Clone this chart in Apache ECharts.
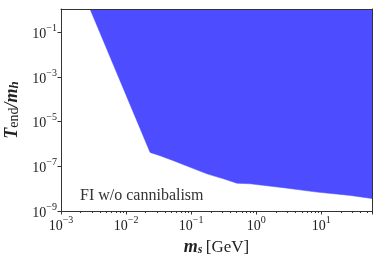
<!DOCTYPE html>
<html>
<head>
<meta charset="utf-8">
<script src="https://cdn.jsdelivr.net/npm/echarts@6/dist/echarts.min.js"></script>
<style>
html,body{margin:0;padding:0;background:#fff;}
#c{width:382px;height:259px;}
</style>
</head>
<body>
<div id="c"></div>
<script>
// boundary of the allowed (blue) region: T_end/m_h vs m_s [GeV]
var msBoundary = [0.00279, 0.0234, 0.0333, 0.0535, 0.0966, 0.1746, 0.314, 0.505, 0.809, 2.63, 8.59, 27.9, 60];
var tBoundary  = [1.1, 4.19e-7, 2.99e-7, 1.79e-7, 9.0e-8, 4.6e-8, 2.75e-8, 1.75e-8, 1.65e-8, 1.1e-8, 7.0e-9, 5.0e-9, 3.6e-9];
var xTickExps = [-3, -2, -1, 0, 1];
var yTickExps = [-9, -7, -5, -3, -1];
var annotation = 'FI w/o cannibalism';

var SERIF = '"Liberation Serif", "DejaVu Serif", serif';
var data = msBoundary.map(function (m, i) { return [m, tBoundary[i]]; });

function powLabel(v) {
  var e = Math.round(Math.log10(v));
  return '{b|10}{s|' + (e < 0 ? '\u2212' + (-e) : e) + '}';
}
var tickRich = {
  b: { fontFamily: SERIF, fontSize: 14, color: '#222', verticalAlign: 'bottom', lineHeight: 18 },
  s: { fontFamily: SERIF, fontSize: 10, color: '#222', verticalAlign: 'top', lineHeight: 18 }
};

var chart = echarts.init(document.getElementById('c'), null, { renderer: 'canvas' });
chart.setOption({
  animation: false,
  grid: { left: 61, right: 10, top: 9, bottom: 48, show: false, containLabel: false, outerBoundsMode: 'none' },
  xAxis: [{
    type: 'log', logBase: 10, min: 1e-3, max: 60,
    position: 'bottom', z: 10,
    axisLine: { show: true, lineStyle: { color: '#333', width: 1 } },
    axisTick: { show: true, length: 3.5, lineStyle: { color: '#333' } },
    minorTick: { show: true, splitNumber: 9, length: 2, lineStyle: { color: '#333' } },
    splitLine: { show: false },
    axisLabel: { formatter: powLabel, rich: tickRich, margin: 4, showMaxLabel: false },
    name: '{bi|m}{bis|s} {r|[GeV]}', nameLocation: 'middle', nameGap: 25,
    nameTextStyle: { rich: {
      bi: { fontFamily: SERIF, fontSize: 18, fontWeight: 'bold', fontStyle: 'italic', color: '#222', verticalAlign: 'bottom', lineHeight: 20 },
      bis: { fontFamily: SERIF, fontSize: 12, fontWeight: 'bold', fontStyle: 'italic', color: '#222', verticalAlign: 'bottom', lineHeight: 16 },
      r: { fontFamily: SERIF, fontSize: 17, color: '#222', verticalAlign: 'bottom', lineHeight: 20 }
    } }
  }, {
    type: 'log', logBase: 10, min: 1e-3, max: 60, position: 'top', z: 10,
    axisLine: { show: true, lineStyle: { color: '#333', width: 1 } },
    axisTick: { show: false }, axisLabel: { show: false }, splitLine: { show: false }
  }],
  yAxis: [{
    type: 'log', logBase: 10, min: 1e-9, max: 1.1, interval: 2,
    position: 'left', z: 10,
    axisLine: { show: true, lineStyle: { color: '#333', width: 1 } },
    axisTick: { show: true, length: 3.5, lineStyle: { color: '#333' } },
    splitLine: { show: false },
    axisLabel: { formatter: powLabel, rich: tickRich, margin: 4, showMaxLabel: false },
    name: '{bi|T}{sub|end}{bi|/m}{bis|h}', nameLocation: 'middle', nameGap: 34, nameRotate: 90,
    nameTextStyle: { rich: {
      bi: { fontFamily: SERIF, fontSize: 18, fontWeight: 'bold', fontStyle: 'italic', color: '#222', verticalAlign: 'bottom', lineHeight: 20 },
      bis: { fontFamily: SERIF, fontSize: 13, fontWeight: 'bold', fontStyle: 'italic', color: '#222', verticalAlign: 'bottom', lineHeight: 15 },
      sub: { fontFamily: SERIF, fontSize: 14, color: '#222', verticalAlign: 'bottom', lineHeight: 15 }
    } }
  }, {
    type: 'log', logBase: 10, min: 1e-9, max: 1.1, position: 'right', z: 10,
    axisLine: { show: true, lineStyle: { color: '#333', width: 1 } },
    axisTick: { show: false }, axisLabel: { show: false }, splitLine: { show: false }
  }],
  graphic: [{
    type: 'text', left: 80, top: 188, z: 20,
    style: { text: annotation, font: '16px ' + SERIF, fill: '#333' }
  }],
  series: [{
    type: 'line', xAxisIndex: 0, yAxisIndex: 0,
    data: data, showSymbol: false, symbol: 'none',
    lineStyle: { width: 0.5, color: '#4d4dff' },
    areaStyle: { origin: 'end', color: '#4d4dff', opacity: 1 },
    z: 2
  }]
});
</script>
</body>
</html>
